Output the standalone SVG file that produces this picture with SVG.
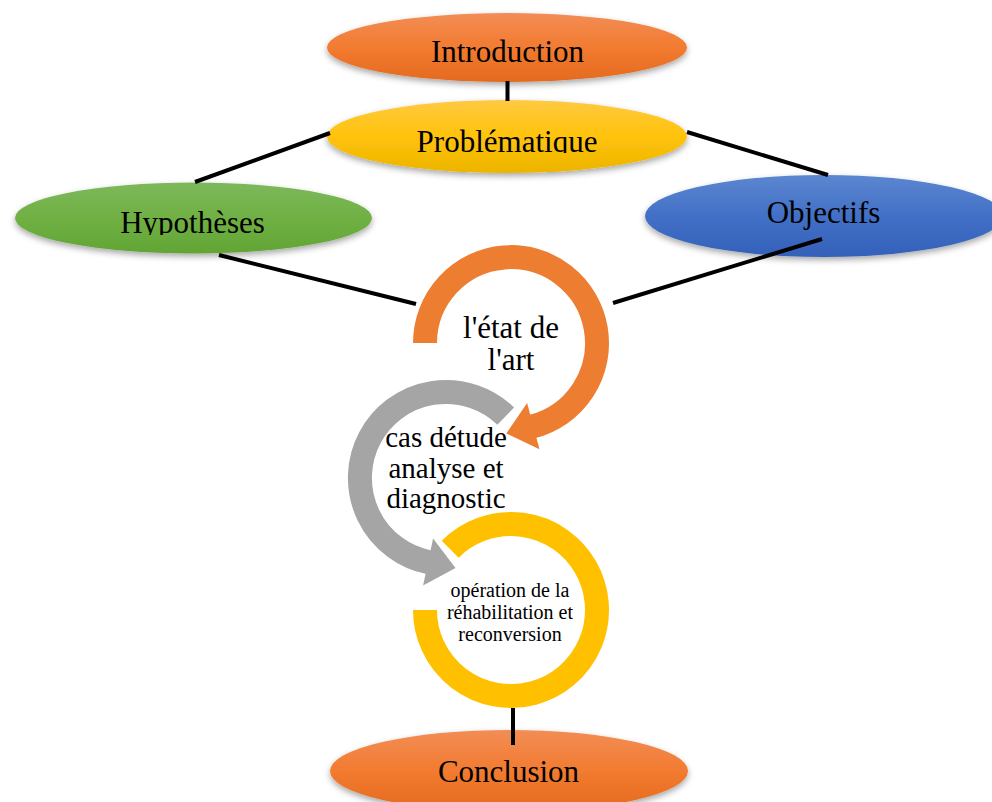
<svg xmlns="http://www.w3.org/2000/svg" width="992" height="802" viewBox="0 0 992 802">
  <style>
    .lbl { font-family: "Liberation Serif", "Times New Roman", serif; fill: #000; text-anchor: middle; }
    .big { font-size: 31px; }
    .mid { font-size: 29px; }
    .sml { font-size: 20px; }
    .conn { stroke: #000; stroke-width: 4; fill: none; }
    .ring { fill: none; stroke-width: 24; }
  </style>
  <defs>
    <filter id="shadow" x="-10%" y="-20%" width="120%" height="150%">
      <feDropShadow dx="0" dy="3" stdDeviation="3" flood-color="#000" flood-opacity="0.35"/>
    </filter>
    <linearGradient id="gOrange" x1="0" y1="0" x2="0" y2="1">
      <stop offset="0" stop-color="#F28D55"/>
      <stop offset="0.5" stop-color="#F27B30"/>
      <stop offset="1" stop-color="#E46A1E"/>
    </linearGradient>
    <linearGradient id="gYellow" x1="0" y1="0" x2="0" y2="1">
      <stop offset="0" stop-color="#FFC942"/>
      <stop offset="0.5" stop-color="#FFC30A"/>
      <stop offset="1" stop-color="#EDB400"/>
    </linearGradient>
    <linearGradient id="gGreen" x1="0" y1="0" x2="0" y2="1">
      <stop offset="0" stop-color="#7DB85C"/>
      <stop offset="0.5" stop-color="#70B043"/>
      <stop offset="1" stop-color="#62A535"/>
    </linearGradient>
    <linearGradient id="gBlue" x1="0" y1="0" x2="0" y2="1">
      <stop offset="0" stop-color="#5C86D0"/>
      <stop offset="0.5" stop-color="#4270C6"/>
      <stop offset="1" stop-color="#3461BA"/>
    </linearGradient>
    <clipPath id="clipIntro"><rect x="300" y="0" width="420" height="62"/></clipPath>
    <clipPath id="clipProb"><rect x="300" y="90" width="420" height="63"/></clipPath>
    <clipPath id="clipHyp"><rect x="0" y="170" width="400" height="65"/></clipPath>
  </defs>

  <!-- ellipse nodes -->
  <g id="introduction">
    <ellipse cx="507" cy="47.5" rx="180" ry="34.5" fill="url(#gOrange)" filter="url(#shadow)"/>
    <text class="lbl big" x="507.5" y="62" clip-path="url(#clipIntro)">Introduction</text>
  </g>
  <g id="problematique">
    <ellipse cx="507" cy="136.5" rx="180" ry="36.5" fill="url(#gYellow)" filter="url(#shadow)"/>
    <text class="lbl big" x="507" y="152" clip-path="url(#clipProb)">Problématique</text>
  </g>
  <g id="hypotheses">
    <ellipse cx="193.5" cy="218" rx="178.5" ry="35.5" fill="url(#gGreen)" filter="url(#shadow)"/>
    <text class="lbl big" x="192.5" y="233" clip-path="url(#clipHyp)">Hypothèses</text>
  </g>
  <g id="objectifs">
    <ellipse cx="824" cy="216" rx="179" ry="41" fill="url(#gBlue)" filter="url(#shadow)"/>
    <text class="lbl big" x="823.5" y="223">Objectifs</text>
  </g>
  <g id="conclusion">
    <ellipse cx="509" cy="771" rx="179" ry="41" fill="url(#gOrange)" filter="url(#shadow)"/>
    <text class="lbl big" x="508.5" y="782">Conclusion</text>
  </g>

  <!-- circular arrow nodes -->
  <g id="etat-de-l-art">
    <path class="ring" stroke="#ED7D31" d="M425,343 A86,86 0 1 1 532.5,426.4"/>
    <polygon fill="#ED7D31" points="527.1,402.9 539.5,449.3 506.3,433.4"/>
    <text class="lbl big" x="511" y="338">l'état de</text>
    <text class="lbl big" x="511" y="370">l'art</text>
  </g>
  <g id="cas-etude">
    <path class="ring" stroke="#A5A5A5" d="M505.7,416.1 A86,86 0 1 0 428.8,562.2"/>
    <polygon fill="#A5A5A5" points="433.1,538.6 423.1,585.6 455.5,567.9"/>
    <text class="lbl mid" x="446" y="447">cas détude</text>
    <text class="lbl mid" x="446" y="478">analyse et</text>
    <text class="lbl mid" x="446" y="508">diagnostic</text>
  </g>
  <g id="operation">
    <path class="ring" stroke="#FFC000" d="M450.2,549.2 A86,86 0 1 1 425,610"/>
    <text class="lbl sml" x="510" y="597">opération de la</text>
    <text class="lbl sml" x="510" y="619">réhabilitation et</text>
    <text class="lbl sml" x="510" y="641">reconversion</text>
  </g>

  <!-- connectors -->
  <g id="connectors">
    <line class="conn" x1="507.5" y1="81" x2="507.5" y2="101"/>
    <line class="conn" x1="330" y1="133" x2="195" y2="182"/>
    <line class="conn" x1="687" y1="132" x2="828" y2="175"/>
    <line class="conn" x1="219" y1="255" x2="416" y2="304"/>
    <line class="conn" x1="822" y1="239" x2="613" y2="303"/>
    <line class="conn" x1="513" y1="708" x2="513" y2="745"/>
  </g>
</svg>
